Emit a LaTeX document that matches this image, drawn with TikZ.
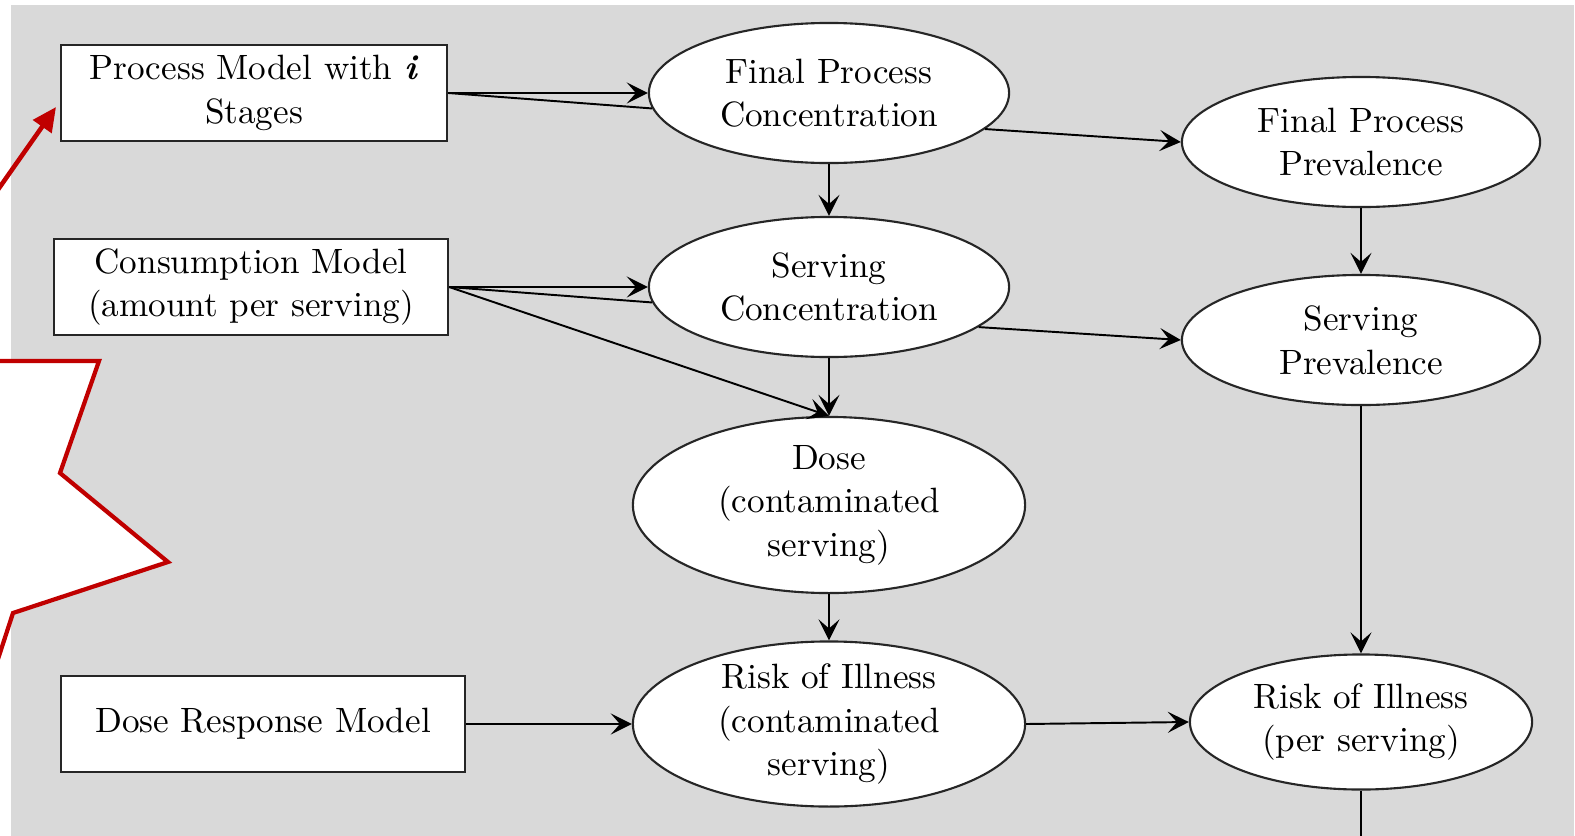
\documentclass[tikz,border=0pt]{standalone}
\usetikzlibrary{shapes.geometric,arrows.meta}
\definecolor{panel}{HTML}{D9D9D9}
\definecolor{callred}{HTML}{C00000}
\begin{document}
\begin{tikzpicture}[x=0.01cm,y=-0.01cm,
  font=\fontsize{10}{12.4}\selectfont,
  modelbox/.style={draw=black!85, line width=0.6pt, fill=white, inner sep=0pt, align=center},
  oval/.style={ellipse, draw=black!85, line width=0.6pt, fill=white, inner sep=-2pt, align=center},
  flow/.style={line width=0.55pt, -{Stealth[length=6pt,width=6pt,inset=2.6pt]}},
  link/.style={line width=0.55pt},
  callout/.style={draw=callred, line width=1.2pt, fill=white, line join=miter},
  pointer/.style={draw=callred, line width=1.3pt, -{Triangle[length=0.24cm,width=0.22cm]}},
]
\useasboundingbox (0,0) rectangle (1575,836);
\clip (0,0) rectangle (1575,836);
% grey panel behind the flow chart
\fill[panel] (11,5) rectangle (1574,836);

% model inputs (left column)
\node[modelbox, minimum width=3.86cm, minimum height=0.96cm] (pm) at (254,93)
  {Process Model with \textbf{\textit{i}}\\Stages};
\node[modelbox, minimum width=3.94cm, minimum height=0.96cm] (cm) at (251,287)
  {Consumption Model\\(amount per serving)};
\node[modelbox, minimum width=4.04cm, minimum height=0.96cm] (dr) at (263,724)
  {Dose Response Model};

% concentration branch (middle column)
\node[oval, minimum width=3.6cm, minimum height=1.4cm] (fpc) at (829,93)
  {Final Process\\Concentration};
\node[oval, minimum width=3.6cm, minimum height=1.4cm] (sc) at (829,287)
  {Serving\\Concentration};
\node[oval, minimum width=3.92cm, minimum height=1.76cm] (dose) at (829,505)
  {Dose\\(contaminated\\serving)};
\node[oval, minimum width=3.92cm, minimum height=1.65cm] (ric) at (829,724)
  {Risk of Illness\\(contaminated\\serving)};

% prevalence branch (right column)
\node[oval, minimum width=3.58cm, minimum height=1.3cm] (fpp) at (1361,142)
  {Final Process\\Prevalence};
\node[oval, minimum width=3.58cm, minimum height=1.3cm] (sp) at (1361,340)
  {Serving\\Prevalence};
\node[oval, minimum width=3.42cm, minimum height=1.35cm] (rip) at (1361,722)
  {Risk of Illness\\(per serving)};
\coordinate (onward) at (1361,845);

% connectors
\draw[flow] (pm.east) -- (fpc.west);
\draw[link] (pm.east) -- (fpc.185);
\draw[flow] (cm.east) -- (sc.west);
\draw[link] (cm.east) -- (sc.185);
\draw[flow] (cm.east) -- (dose.north);
\draw[flow] (fpc.south) -- (sc.north);
\draw[flow] (sc.south) -- (dose.north);
\draw[flow] (dose.south) -- (ric.north);
\draw[flow] (dr.east) -- (ric.west);
\draw[flow] (fpc.-13) -- (fpp.west);
\draw[flow] (sc.-15) -- (sp.west);
\draw[flow] (fpp.south) -- (sp.north);
\draw[flow] (sp.south) -- (rip.north);
\draw[flow] (ric.east) -- (rip.west);
\draw[link] (rip.south) -- (onward);

% red call-out burst and pointer on the left edge
\draw[callout] (-80,361) -- (99,361) -- (60,473) -- (168,562) -- (13,613)
  -- (-30,745) -- (-80,745) -- cycle;
\coordinate (ptail) at (-10,201);
\coordinate (ptip) at (56,107);
\draw[pointer] (ptail) -- (ptip);
\end{tikzpicture}
\end{document}
